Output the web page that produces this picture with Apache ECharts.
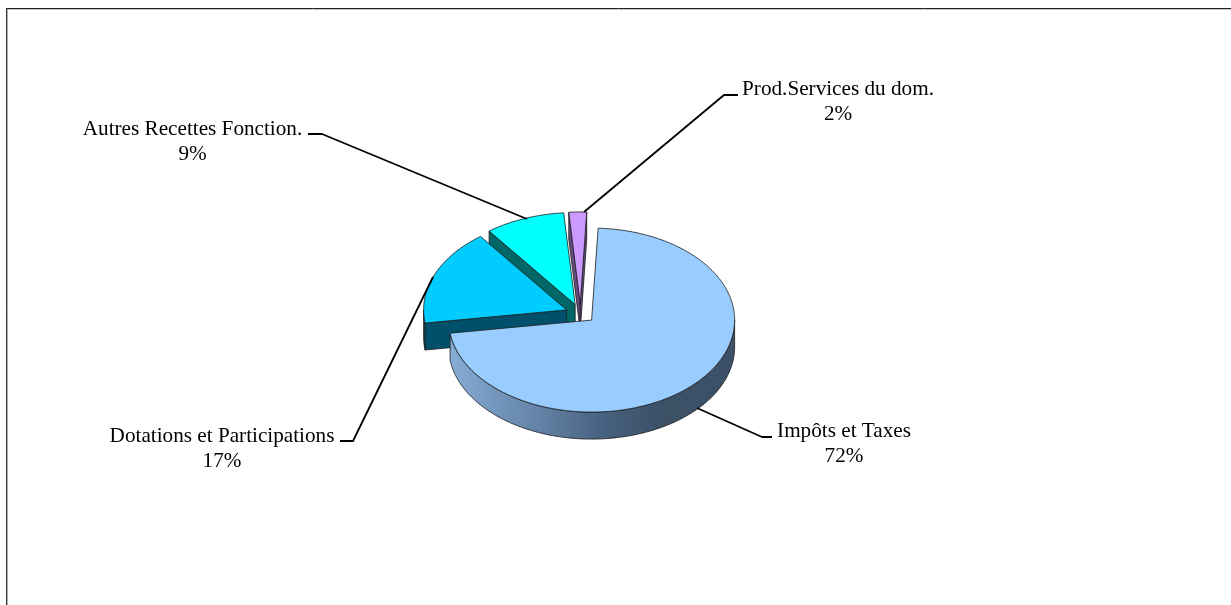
<!DOCTYPE html>
<html lang="fr">
<head>
<meta charset="utf-8">
<title>Recettes de fonctionnement</title>
<style>
  html, body { margin: 0; padding: 0; background: #fff; }
  #chart { width: 1231px; height: 605px; }
</style>
<script src="https://cdn.jsdelivr.net/npm/echarts@6/dist/echarts.min.js"></script>
</head>
<body>
<div id="chart"></div>
<script>
// Budget shares, clockwise from the top of the pie
const categories = ['Impôts et Taxes', 'Dotations et Participations', 'Autres Recettes Fonction.', 'Prod.Services du dom.'];
const shares = [72, 17, 9, 2];

// Tilted pie geometry
const PIE = { cx: 580.5, cy: 313.6, rx: 143, ry: 92, depth: 27, explode: 0.105, startDeg: 2.6 };
const FONT = '21.2px "Liberation Serif", "Times New Roman", serif';

const styles = [
  { top: '#99CCFF', cut: '#3D5166', paint: 4,
    wall: [[0, '#86ACD6'], [0.35, '#5F7DA0'], [0.55, '#45607E'], [0.75, '#3C5066'], [1, '#3C5068']] },
  { top: '#00CCFF', cut: '#00506B', paint: 3 },
  { top: '#00FFFF', cut: '#006666', paint: 1 },
  { top: '#CC99FF', cut: '#664C80', paint: 2 }
];

const callouts = [
  { text: [844, 443.5], line: [[697, 408], [762, 437], [772, 437]] },
  { text: [222, 448.5], line: [[433, 277], [353, 441], [340, 441]] },
  { text: [192.5, 141.5], line: [[527, 219], [322, 134], [308, 134]] },
  { text: [838, 101.5], line: [[584, 212], [724, 95], [738, 95]] }
];

const total = shares.reduce((a, b) => a + b, 0);
const spans = [];
shares.reduce((from, v) => {
  const to = from + v / total * 360;
  spans.push([from, to]);
  return to;
}, PIE.startDeg);

const rad = d => d * Math.PI / 180;

function sliceItem(params, api) {
  const i = params.dataIndex;
  const value = api.value(0);
  const a0 = spans[i][0];
  const a1 = a0 + value / total * 360;
  const mid = rad((a0 + a1) / 2);
  const ox = PIE.cx + Math.sin(mid) * PIE.explode * PIE.rx;
  const oy = PIE.cy - Math.cos(mid) * PIE.explode * PIE.ry;
  const rim = d => [ox + Math.sin(rad(d)) * PIE.rx, oy - Math.cos(rad(d)) * PIE.ry];
  const drop = p => [p[0], p[1] + PIE.depth];
  const st = styles[i];
  const edge = { stroke: '#1c1c1c', lineWidth: 0.8, lineJoin: 'round' };
  const children = [];

  const arc = (from, to) => {
    const pts = [];
    const n = Math.max(2, Math.ceil(Math.abs(to - from)));
    for (let k = 0; k <= n; k++) pts.push(rim(from + (to - from) * k / n));
    return pts;
  };

  // Cut faces are only seen when they turn towards the viewer
  [[a0, a0 - 90], [a1, a1 + 90]].forEach(([deg, normal]) => {
    if (Math.cos(rad(normal)) < 0) {
      const p = rim(deg);
      children.push({
        type: 'polygon', z2: st.paint * 10,
        shape: { points: [[ox, oy], p, drop(p), drop([ox, oy])] },
        style: Object.assign({ fill: st.cut }, edge)
      });
    }
  });

  // Outer wall along the front half of the ellipse
  const wallFrom = Math.max(a0, 90), wallTo = Math.min(a1, 270);
  if (wallTo > wallFrom) {
    const upper = arc(wallFrom, wallTo);
    const lower = upper.map(drop).reverse();
    const fill = st.wall ? new echarts.graphic.LinearGradient(0, 0, 1, 0,
      st.wall.map(([offset, color]) => ({ offset, color }))) : st.cut;
    children.push({
      type: 'polygon', z2: st.paint * 10 + 1,
      shape: { points: upper.concat(lower) },
      style: Object.assign({ fill }, edge)
    });
  }

  // Top face
  children.push({
    type: 'polygon', z2: st.paint * 10 + 2,
    shape: { points: [[ox, oy]].concat(arc(a0, a1)) },
    style: Object.assign({ fill: st.top }, edge)
  });

  // Leader and label
  const c = callouts[i];
  children.push({
    type: 'polyline', z2: 100,
    shape: { points: c.line },
    style: { stroke: '#000', lineWidth: 1.8, lineJoin: 'round', fill: null }
  });
  children.push({
    type: 'text', z2: 101,
    style: {
      x: c.text[0], y: c.text[1],
      text: categories[i] + '\n' + value + '%',
      font: FONT, fill: '#000', align: 'center', verticalAlign: 'middle', lineHeight: 25
    }
  });
  return { type: 'group', children };
}

// Open frame: only the top and left rules fall inside the page
const frameRule = (x1, y1, x2, y2, stroke) => ({
  type: 'line', silent: true,
  shape: { x1, y1, x2, y2 },
  style: { stroke, lineWidth: 1 }
});

const chart = echarts.init(document.getElementById('chart'), null, { renderer: 'canvas' });
chart.setOption({
  animation: false,
  backgroundColor: '#fff',
  graphic: [
    frameRule(6.5, 9.5, 1231, 9.5, '#c8c8c8'),
    frameRule(7.5, 9, 7.5, 605, '#b0b0b0'),
    frameRule(6, 8.5, 1231, 8.5, '#222'),
    frameRule(6.5, 8, 6.5, 605, '#333')
  ],
  series: [{
    type: 'custom',
    coordinateSystem: 'none',
    silent: true,
    clip: false,
    renderItem: sliceItem,
    data: shares.map((v, i) => ({ name: categories[i], value: [v] }))
  }]
});
</script>
</body>
</html>
